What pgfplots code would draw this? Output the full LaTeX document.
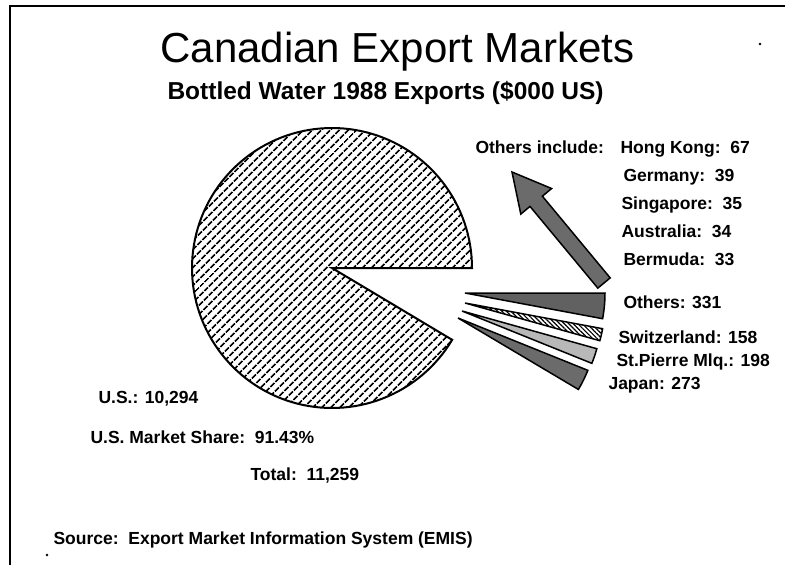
\documentclass[border=0pt]{standalone}
\usepackage{fontspec}
\setmainfont{Liberation Sans}
\usepackage{pgfplots}
\pgfplotsset{compat=1.18}
\usetikzlibrary{patterns.meta}
\tikzset{lbl/.style={anchor=base west, font=\fontsize{17.5}{20}\selectfont\bfseries}}

\begin{document}
\begin{tikzpicture}
\begin{axis}[
  width=785pt, height=565pt, scale only axis,
  xmin=0, xmax=785, ymin=0, ymax=565, y dir=reverse,
  axis lines=none, ticks=none, clip=false,
]
% ---- data (exports, $000 US) ----
\def\tot{11259}
\def\vUS{10294}\def\vOth{331}\def\vSwi{158}\def\vStP{198}\def\vJap{273}
\def\rad{140}
\pgfmathsetmacro\aUS{\vUS/\tot*360}
\pgfmathsetmacro\aA{-\vOth/\tot*360}
\pgfmathsetmacro\aB{\aA-\vSwi/\tot*360}
\pgfmathsetmacro\aC{\aB-\vStP/\tot*360}
\pgfmathsetmacro\aD{\aC-\vJap/\tot*360}

% frame
\addplot[black, line width=2.3pt] coordinates {(785,6) (10,6) (10,565)};

% U.S. slice
\addplot[draw=black, line width=2pt,
  pattern={Lines[angle=45,distance=6.4pt,line width=1.9pt]},
  domain=0:\aUS, samples=140, variable=\t]
  ({332+\rad*cos(\t)}, {268-\rad*sin(\t)}) -- (axis cs:332,268) -- cycle;

% exploded small slices
\addplot[draw=black, line width=1.5pt, fill=black!62, domain=\aA:0, samples=10, variable=\t]
  ({465+\rad*cos(\t)}, {293-\rad*sin(\t)}) -- (axis cs:465,293) -- cycle;
\addplot[draw=black, line width=1.5pt,
  pattern={Lines[angle=-45,distance=3.2pt,line width=1.2pt]},
  domain=\aB:\aA, samples=10, variable=\t]
  ({465+\rad*cos(\t)}, {303-\rad*sin(\t)}) -- (axis cs:465,303) -- cycle;
\addplot[draw=black, line width=1.5pt, fill=black!28, domain=\aC:\aB, samples=10, variable=\t]
  ({462+\rad*cos(\t)}, {311-\rad*sin(\t)}) -- (axis cs:462,311) -- cycle;
\addplot[draw=black, line width=1.5pt, fill=black!58, domain=\aD:\aC, samples=10, variable=\t]
  ({458+\rad*cos(\t)}, {318-\rad*sin(\t)}) -- (axis cs:458,318) -- cycle;

% arrow
\addplot[draw=black, line width=1.5pt, fill=black!58] coordinates {
  (610.2,277.9) (542.4,196.2) (551.6,188.5) (512,172) (520.8,214.1) (530.0,206.4) (597.8,288.1)
} -- cycle;

% specks
\addplot[only marks, mark=*, mark size=1.1pt, black] coordinates {(47,555) (760,44)};

% texts
\node[anchor=base west, font=\fontsize{42}{48}\selectfont] at (axis cs:157,62) {Canadian Export Markets};
\node[anchor=base west, font=\fontsize{24.5}{28}\selectfont\bfseries] at (axis cs:164,99) {Bottled Water 1988 Exports (\$000 US)};

\node[lbl] at (axis cs:472,153) {Others include:};
\node[lbl] at (axis cs:617,153) {Hong Kong:\ \ 67};
\node[lbl] at (axis cs:620,181) {Germany:\ \ 39};
\node[lbl] at (axis cs:618,209) {Singapore:\ \ 35};
\node[lbl] at (axis cs:618,237) {Australia:\ \ 34};
\node[lbl] at (axis cs:620,265) {Bermuda:\ \ 33};

\node[lbl] at (axis cs:620,308) {Others: 331};
\node[lbl] at (axis cs:615,343) {Switzerland: 158};
\node[lbl] at (axis cs:613,366) {St.Pierre Mlq.: 198};
\node[lbl] at (axis cs:605,389) {Japan: 273};

\node[lbl] at (axis cs:95,403) {U.S.: 10,294};
\node[lbl] at (axis cs:87,443) {U.S. Market Share:\ \ 91.43\%};
\node[lbl] at (axis cs:247,480) {Total:\ \ 11,259};
\node[lbl] at (axis cs:50,544) {Source:\ \ Export Market Information System (EMIS)};
\end{axis}
\pgfresetboundingbox
\path[use as bounding box] (0,0) rectangle (785pt,565pt);
\end{tikzpicture}
\end{document}
